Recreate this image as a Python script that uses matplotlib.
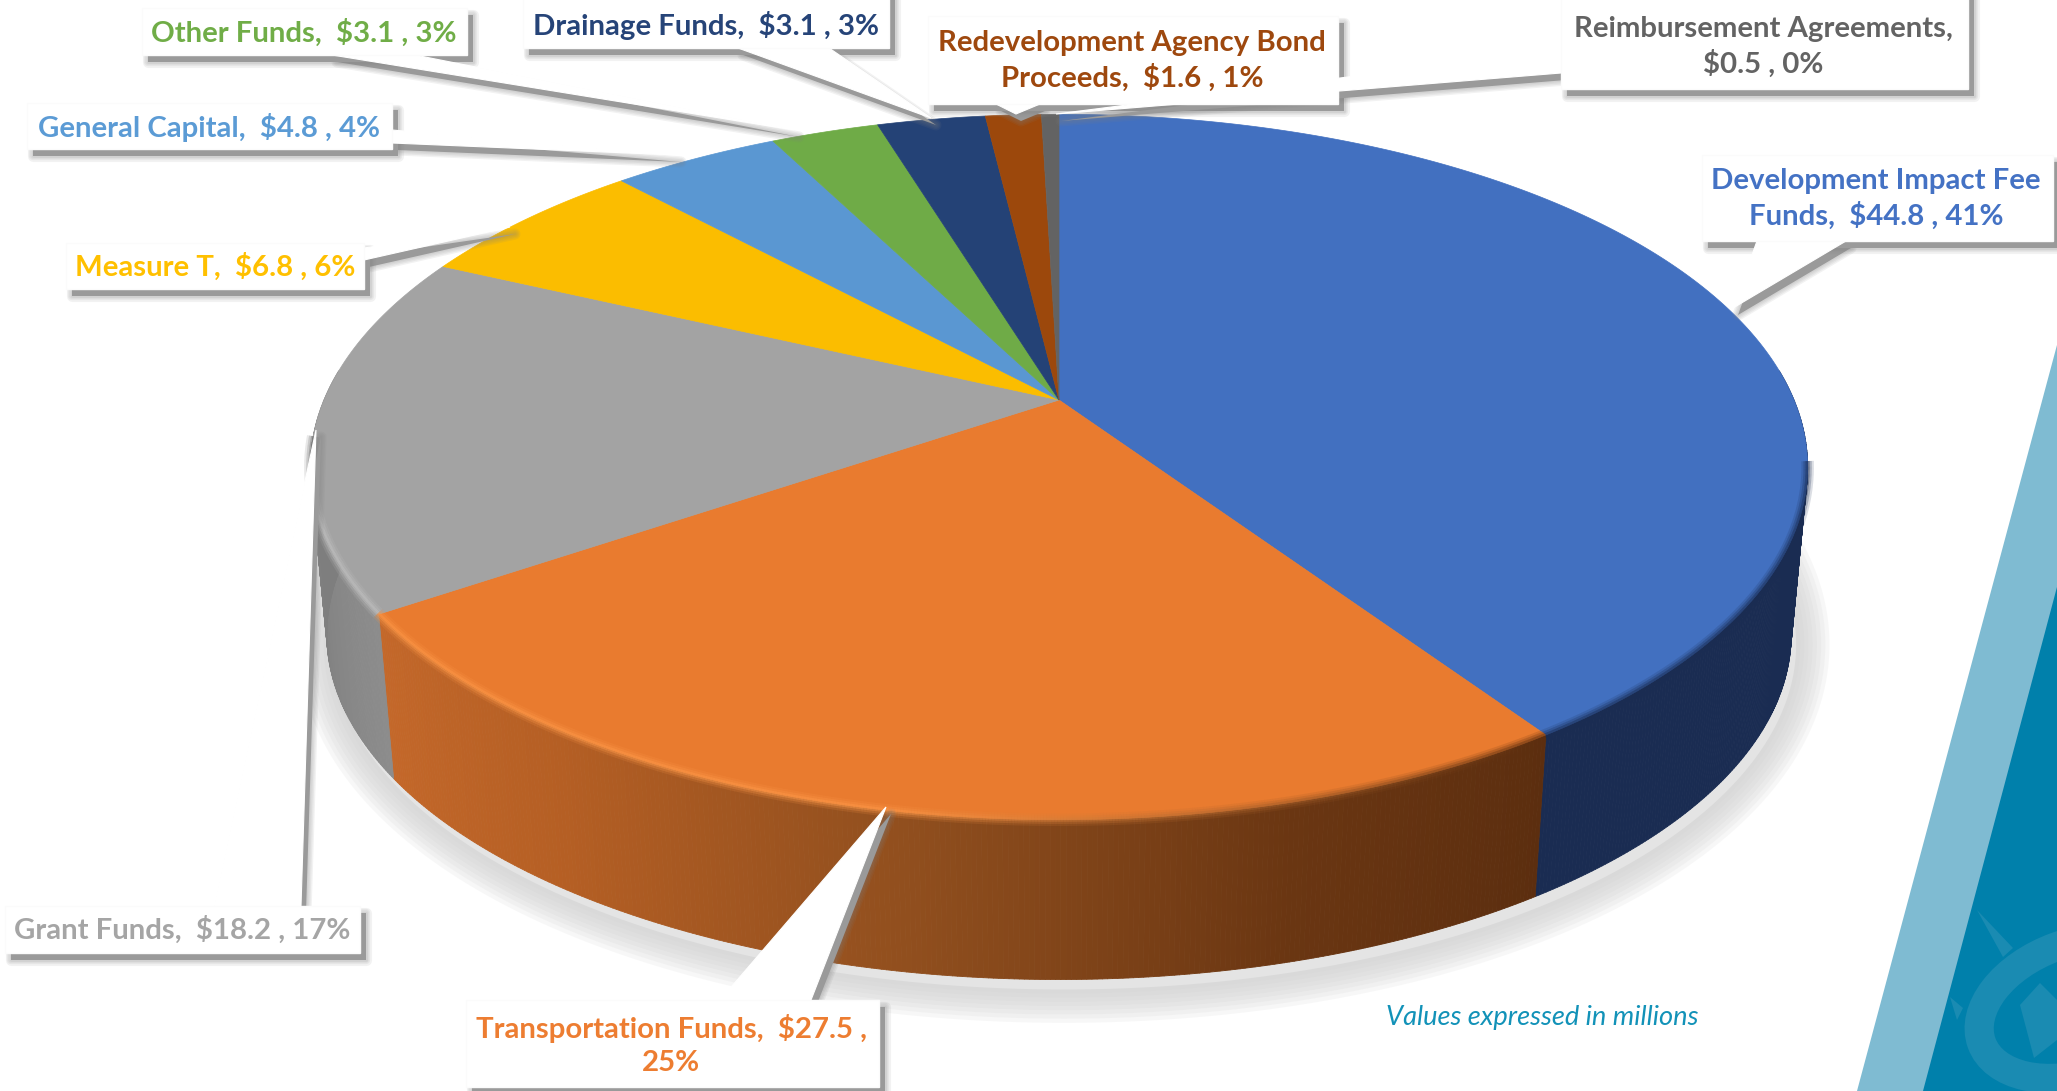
"""3D style capital funding pie with callout labels."""

import numpy as np
import matplotlib
matplotlib.use('Agg')
import matplotlib.pyplot as plt
from matplotlib.collections import LineCollection, PolyCollection
from matplotlib.colors import to_rgb
from matplotlib.patches import Ellipse, Polygon, Rectangle

# Data
categories = ['Development Impact Fee Funds', 'Transportation Funds', 'Grant Funds', 'Measure T',
              'General Capital', 'Other Funds', 'Drainage Funds', 'Redevelopment Agency Bond Proceeds',
              'Reimbursement Agreements']
values = [44.8, 27.5, 18.2, 6.8, 4.8, 3.1, 3.1, 1.6, 0.5]
percents = [41, 25, 17, 6, 4, 3, 3, 1, 0]

# Styles
top_colors = ['#4270C0', '#E97B2F', '#A3A3A3', '#FBBD00', '#5A97D2', '#6FAB47', '#244276', '#9C480C', '#636363']
text_colors = ['#4472C4', '#ED7D31', '#A5A5A5', '#FFC000', '#5B9BD5', '#70AD47', '#264478', '#9E480E', '#636363']
wrap_after = ['Impact Fee ', '$27.5 , ', None, None, None, None, None, 'Agency Bond ', 'Agreements,  ']

# Label boxes (left, top, right, bottom in px) and text centre
boxes = [(1702, 155, 2053, 241), (466, 1000, 879, 1087), (5, 906, 360, 953), (66, 243, 364, 289),
         (27, 103, 392, 149), (142, 8, 467, 55), (523, -8, 889, 48), (928, 16, 1338, 104), (1561, -8, 1968, 89)]
text_pos = [(1876, 199), (671, 1045), (182, 930), (215, 267), (209, 127), (304, 33), (706, 25), (1132, 61), (1763, 47)]
# Callout wedges: two base points on the box, then tip on the pie
leaders = [[(1757, 241), (1846, 241), (1733, 308)], [(720, 1000), (811, 1000), (886, 807)],
           [(214, 906), (301, 906), (316, 430)], [(364, 248), (364, 260), (510, 227)],
           [(392, 130), (392, 143), (676, 155)], [(332, 55), (415, 55), (794, 130)],
           [(738, 48), (829, 48), (931, 118)], [(996, 104), (1040, 104), (1016, 114)],
           [(1561, 50), (1561, 73), (1056, 114)]]

# Pie geometry in px: perspective circle with apex at (cx, cy)
cx, cy = 1059, 400
a, b, k = 735, 340, 0.19
depth, base_scale = 169, 0.978


def project(theta_deg, scale=1.0, dy=0.0):
    th = np.radians(theta_deg)
    x, y = np.sin(th), np.cos(th)
    w = 1 + k * y
    return np.column_stack([cx + scale * a * x / w, cy + dy - scale * b * y / w])


def soft_patch(ax, pts, offset, zorder=4):
    # faded strokes first, then the solid core of the shadow
    shifted = np.asarray(pts, dtype=float) + np.asarray(offset)
    for lw in (2, 4, 6, 8):
        ax.add_patch(Polygon(shifted, closed=True, fc='none', ec='#808080', lw=lw, alpha=0.1,
                             joinstyle='round', zorder=zorder))
    ax.add_patch(Polygon(shifted, closed=True, fc='#9A9A9A', ec='none', zorder=zorder))


def blend(c1, c2, t):
    return tuple((1 - t) * np.array(to_rgb(c1)) + t * np.array(to_rgb(c2)))


fig = plt.figure(figsize=(20.57, 10.91), dpi=100)
ax = fig.add_axes([0, 0, 1, 1])
ax.set_xlim(0, 2057)
ax.set_ylim(1091, 0)
ax.axis('off')

# Decorative bands on the right
ax.add_patch(Polygon([(2057, 345), (2057, 1091), (1857, 1091)], fc='#7FBBD2', ec='none', zorder=1))
teal = Polygon([(2057, 587), (2057, 1091), (1923, 1091)], fc='#0080AB', ec='none', zorder=1)
ax.add_patch(teal)
marks = [Ellipse((2078, 1008), 205, 130, angle=-20, fc='none', ec='#1A8BB2', lw=21, zorder=2),
         Polygon([(1977, 910), (2013, 948), (2003, 957)], fc='#1A8BB2', ec='none', zorder=2),
         Polygon([(1950, 997), (1963, 1008), (1957, 1020)], fc='#1A8BB2', ec='none', zorder=2),
         Polygon([(2040, 983), (2057, 1000), (2057, 1040), (2034, 1058), (2020, 1005)],
                 fc='#1A8BB2', ec='none', zorder=2)]
for mark in marks:
    ax.add_patch(mark)
    mark.set_clip_path(teal)

# Slice angles, clockwise from the top
edges = np.concatenate([[0], np.cumsum(values)]) / np.sum(values) * 360

# Soft shadow below the pie
outline = project(np.linspace(0, 360, 361), base_scale, depth)
for lw in range(6, 54, 6):
    ax.add_patch(Polygon(outline + [5, 10], fc='none', ec='#d0d0d0', lw=lw, alpha=0.16, zorder=2))
ax.add_patch(Polygon(outline + [5, 10], fc='#E4E4E4', ec='none', zorder=2))

# Side walls
side_stops = {0: [(146, '#1A2C52'), (85, '#1A2C52')],
              1: [(146, '#5C2E0F'), (165, '#6A3612'), (190, '#914F1E'), (215, '#B55F24'), (236, '#C4682A')],
              2: [(236, '#8C8C8C'), (262, '#7E7E7E'), (275, '#7E7E7E')]}
for i in range(3):
    lo = max(edges[i], 85)
    hi = min(edges[i + 1], 275)
    angs = np.linspace(lo, hi, int(hi - lo) * 3 + 2)
    top = project(angs)
    bot = project(angs, base_scale, depth)
    stops = sorted(side_stops[i])
    xs = [s[0] for s in stops]
    rgb = np.array([to_rgb(s[1]) for s in stops])
    quads, cols = [], []
    for j in range(len(angs) - 1):
        quads.append([top[j], top[j + 1], bot[j + 1], bot[j]])
        mid = (angs[j] + angs[j + 1]) / 2
        cols.append([np.interp(mid, xs, rgb[:, c]) for c in range(3)])
    ax.add_collection(PolyCollection(quads, facecolors=cols, edgecolors=cols, linewidths=0.6, zorder=3))

# Top face of each slice
for i, col in enumerate(top_colors):
    angs = np.linspace(edges[i], edges[i + 1], max(int(edges[i + 1] - edges[i]) * 2, 4))
    pts = np.vstack([[cx, cy], project(angs)])
    ax.add_patch(Polygon(pts, closed=True, fc=col, ec=col, lw=0.5, zorder=3.2))

# Bevel along the front rim
rim_angs = np.linspace(100, 264, 900)
rim_pts = project(rim_angs)
rim_segs = np.stack([rim_pts[:-1], rim_pts[1:]], axis=1)
rim_cols = []
for ang in rim_angs[:-1]:
    if ang < edges[1]:
        rim_cols.append(to_rgb('#1A2C52'))
    elif ang < edges[2]:
        t = (ang - edges[1]) / (edges[2] - edges[1])
        rim_cols.append(blend('#5C2E0F', '#FF9A4A', min(t * 2.0, 1.0)))
    else:
        rim_cols.append(to_rgb('#C4C4C4') if ang < 255 else to_rgb('#707070'))
for lw, alpha in [(9, 0.16), (6, 0.26), (3, 0.42)]:
    ax.add_collection(LineCollection(rim_segs, colors=rim_cols, linewidths=lw, alpha=alpha,
                                     capstyle='butt', zorder=3.3))

# Callouts and labels
for box, leader in zip(boxes, leaders):
    left, top, right, bottom = box
    rect = [(left, top), (right, top), (right, bottom), (left, bottom)]
    soft_patch(ax, leader, (5, 7), zorder=4)
    soft_patch(ax, rect, (6, 7), zorder=4)
for box, leader in zip(boxes, leaders):
    left, top, right, bottom = box
    ax.add_patch(Polygon(leader, fc='white', ec='white', lw=0.8, zorder=5))
    ax.add_patch(Rectangle((left, top), right - left, bottom - top, fc='white', ec='#FBFBFB', lw=1, zorder=5))

for i, name in enumerate(categories):
    label = f'{name},  ${values[i]:.1f} , {percents[i]}%'
    if wrap_after[i]:
        label = label.replace(wrap_after[i], wrap_after[i].rstrip() + '\n')
    ax.text(text_pos[i][0], text_pos[i][1], label, color=text_colors[i], family='Lato', weight='bold',
            fontsize=21.2, ha='center', va='center', multialignment='center', linespacing=1.32, zorder=6)

ax.text(1542, 1018, 'Values expressed in millions', color='#1292B8', family='Lato', style='italic',
        fontsize=19.6, ha='center', va='center', zorder=6)

fig.savefig('out.png', dpi=100)
